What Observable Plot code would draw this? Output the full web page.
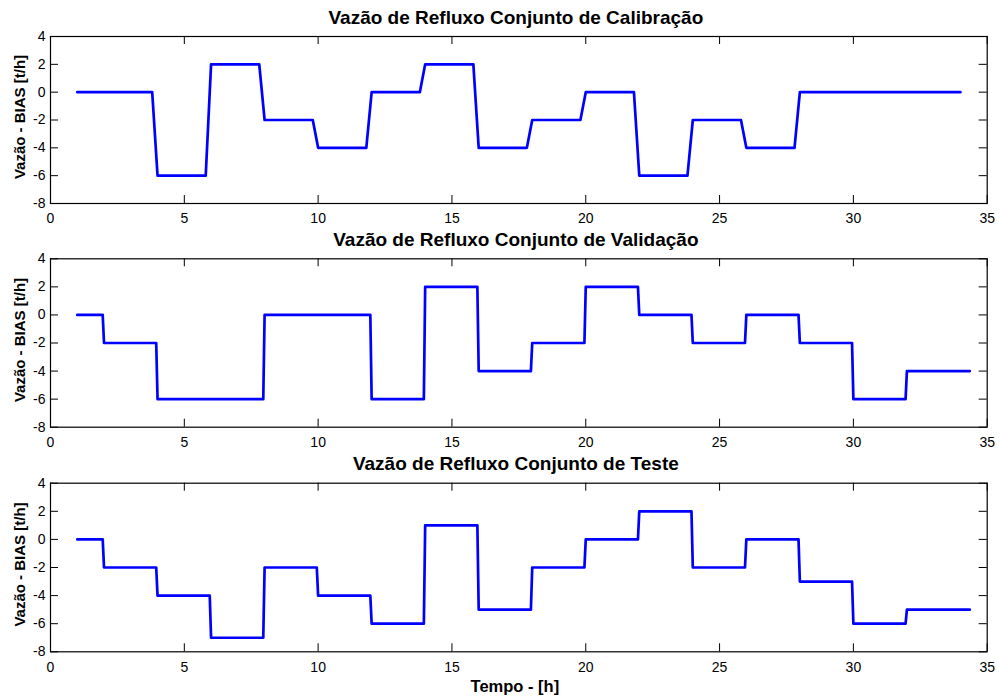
<!DOCTYPE html>
<html><head><meta charset="utf-8">
<script src="https://cdn.jsdelivr.net/npm/d3@7"></script>
<script src="https://cdn.jsdelivr.net/npm/@observablehq/plot@0.6"></script>
<style>
body{margin:0;background:#fff;}
#chart{position:relative;width:999px;height:697px;overflow:hidden;background:#fff;}
#chart svg{position:absolute;left:0;}
</style></head><body><div id="chart"></div>
<script>
const titles = [
  "Vazão de Refluxo Conjunto de Calibração",
  "Vazão de Refluxo Conjunto de Validação",
  "Vazão de Refluxo Conjunto de Teste"
];
const yLabel = "Vazão - BIAS [t/h]";
const xLabel = "Tempo - [h]";
const xTicks = [0, 5, 10, 15, 20, 25, 30, 35];
const yTicks = [-8, -6, -4, -2, 0, 2, 4];

// Calibração
const calX = [1, 3.8, 4, 5.8, 6, 7.8, 8, 9.8, 10, 11.8, 12, 13.8, 14, 15.8, 16, 17.8, 18, 19.8, 20, 21.8, 22, 23.8, 24, 25.8, 26, 27.8, 28, 34];
const calY = [0, 0, -6, -6, 2, 2, -2, -2, -4, -4, 0, 0, 2, 2, -4, -4, -2, -2, 0, 0, -6, -6, -2, -2, -4, -4, 0, 0];

// Validação
const valX = [1, 1.95, 2, 3.95, 4, 7.95, 8, 11.95, 12, 13.95, 14, 15.95, 16, 17.95, 18, 19.95, 20, 21.95, 22, 23.95, 24, 25.95, 26, 27.95, 28, 29.95, 30, 31.95, 32, 34.35];
const valY = [0, 0, -2, -2, -6, -6, 0, 0, -6, -6, 2, 2, -4, -4, -2, -2, 2, 2, 0, 0, -2, -2, 0, 0, -2, -2, -6, -6, -4, -4];

// Teste
const testX = [1, 1.95, 2, 3.95, 4, 5.95, 6, 7.95, 8, 9.95, 10, 11.95, 12, 13.95, 14, 15.95, 16, 17.95, 18, 19.95, 20, 21.95, 22, 23.95, 24, 25.95, 26, 27.95, 28, 29.95, 30, 31.95, 32, 34.35];
const testY = [0, 0, -2, -2, -4, -4, -7, -7, -2, -2, -4, -4, -6, -6, 1, 1, -5, -5, -2, -2, 0, 0, 2, 2, -2, -2, 0, 0, -3, -3, -6, -6, -5, -5];

const W = 999, ML = 50, MR = 12.3;
const panels = [
  {xs: calX, ys: calY, title: titles[0], top: 0, height: 223, mt: 36, mb: 20, xl: false},
  {xs: valX, ys: valY, title: titles[1], top: 223, height: 224, mt: 35.3, mb: 20.3, xl: false},
  {xs: testX, ys: testY, title: titles[2], top: 447, height: 250, mt: 35.7, mb: 45.7, xl: true}
];

const chart = document.getElementById("chart");
for (const p of panels) {
  const frameH = p.height - p.mt - p.mb;
  const frameW = W - ML - MR;
  const data = p.xs.map((x, i) => ({x, y: p.ys[i]}));
  const marks = [
    Plot.line(data, {x: "x", y: "y", stroke: "#0000ff", strokeWidth: 2.7}),
    Plot.tickX(xTicks, {x: d => d, stroke: "black", insetTop: frameH - 8}),
    Plot.tickX(xTicks, {x: d => d, stroke: "black", insetBottom: frameH - 8}),
    Plot.tickY(yTicks, {y: d => d, stroke: "black", insetLeft: frameW - 8}),
    Plot.tickY(yTicks, {y: d => d, stroke: "black", insetRight: frameW - 8}),
    Plot.frame({stroke: "black", strokeWidth: 1.2}),
    Plot.axisX({ticks: xTicks, tickSize: 0, tickPadding: 10, tickFormat: d => String(d), label: null}),
    Plot.axisY({ticks: yTicks, tickSize: 0, tickPadding: 5, tickFormat: d => String(d), label: null}),
    Plot.text([p.title], {frameAnchor: "top", lineAnchor: "middle", textAnchor: "middle", dy: -19, dx: -3, fontSize: 19, fontWeight: "bold", fill: "black"}),
    Plot.text([yLabel], {frameAnchor: "left", textAnchor: "middle", lineAnchor: "middle", dx: -30, dy: -3, rotate: -90, fontSize: 15, fontWeight: "bold", fill: "black"})
  ];
  if (p.xl) marks.push(Plot.text([xLabel], {frameAnchor: "bottom", lineAnchor: "middle", textAnchor: "middle", dy: 35, dx: -4, fontSize: 16.5, fontWeight: "bold", fill: "black"}));
  const svg = Plot.plot({
    width: W, height: p.height,
    marginLeft: ML, marginRight: MR, marginTop: p.mt, marginBottom: p.mb,
    x: {domain: [0, 35]},
    y: {domain: [-8, 4]},
    style: {fontFamily: "'Liberation Sans', Arial, sans-serif", fontSize: "14px", background: "white", color: "black", overflow: "visible"},
    marks
  });
  svg.style.top = p.top + "px";
  chart.appendChild(svg);
}
</script>
</body></html>
